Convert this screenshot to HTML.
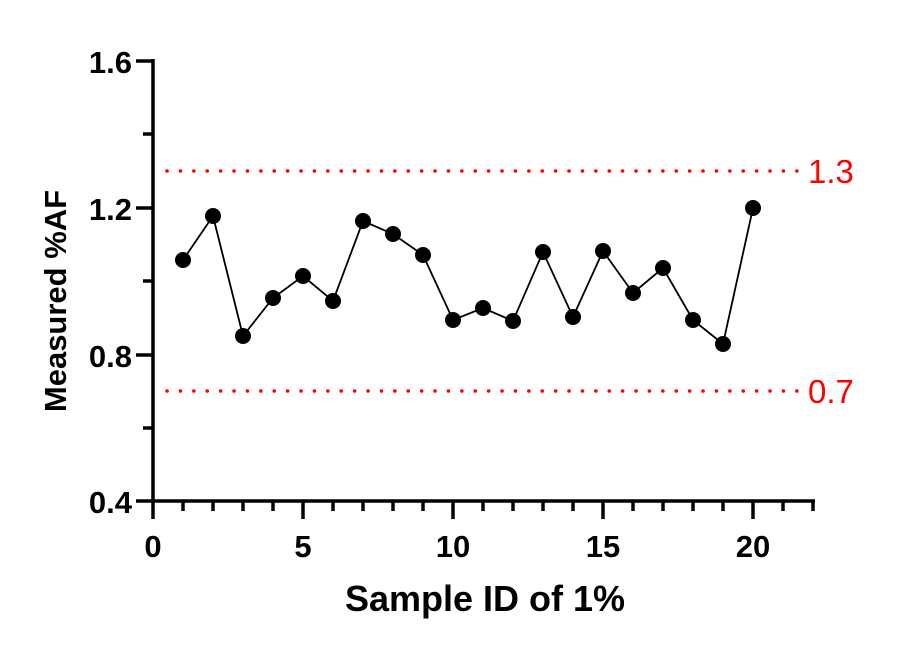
<!DOCTYPE html>
<html><head><style>body{margin:0;background:#fff}svg{display:block}</style></head><body>
<svg width="915" height="651" xmlns="http://www.w3.org/2000/svg" font-family="Liberation Sans, Arial, sans-serif">
<g stroke="#f00" stroke-width="3.5" stroke-dasharray="0.1,13.3" stroke-linecap="round">
<line x1="167" y1="171" x2="805" y2="171"/>
<line x1="167" y1="391" x2="805" y2="391"/>
</g>
<text x="808" y="183" font-size="33" fill="#f00">1.3</text>
<text x="808" y="403" font-size="33" fill="#f00">0.7</text>
<g stroke="#000" stroke-width="3.5" fill="none">
<line x1="153" y1="59" x2="153" y2="503"/>
<line x1="151" y1="501" x2="815" y2="501"/>
<path d="M136 61H153M136 208H153M136 355H153M136 501H153M143 134H153M143 281H153M143 428H153"/>
<path d="M153 501V519M303 501V519M453 501V519M603 501V519M753 501V519"/>
<path d="M183 501V511M213 501V511M243 501V511M273 501V511M333 501V511M363 501V511M393 501V511M423 501V511M483 501V511M513 501V511M543 501V511M573 501V511M633 501V511M663 501V511M693 501V511M723 501V511M783 501V511M813 501V511"/>
</g>
<polyline fill="none" stroke="#000" stroke-width="1.8" points="183,260 213,216 243,336 273,298 303,276 333,301 363,221 393,234 423,255 453,320 483,308 513,321 543,252 573,317 603,251 633,293 663,268 693,320 723,344 753,208"/>
<g fill="#000">
<circle cx="183" cy="260" r="8"/><circle cx="213" cy="216" r="8"/><circle cx="243" cy="336" r="8"/><circle cx="273" cy="298" r="8"/><circle cx="303" cy="276" r="8"/><circle cx="333" cy="301" r="8"/><circle cx="363" cy="221" r="8"/><circle cx="393" cy="234" r="8"/><circle cx="423" cy="255" r="8"/><circle cx="453" cy="320" r="8"/><circle cx="483" cy="308" r="8"/><circle cx="513" cy="321" r="8"/><circle cx="543" cy="252" r="8"/><circle cx="573" cy="317" r="8"/><circle cx="603" cy="251" r="8"/><circle cx="633" cy="293" r="8"/><circle cx="663" cy="268" r="8"/><circle cx="693" cy="320" r="8"/><circle cx="723" cy="344" r="8"/><circle cx="753" cy="208" r="8"/>
</g>
<g font-size="31" font-weight="bold" text-anchor="end">
<text x="132" y="73">1.6</text><text x="132" y="220">1.2</text><text x="132" y="367">0.8</text><text x="132" y="513">0.4</text>
</g>
<g font-size="31" font-weight="bold" text-anchor="middle">
<text x="153" y="557">0</text><text x="303" y="557">5</text><text x="453" y="557">10</text><text x="603" y="557">15</text><text x="753" y="557">20</text>
</g>
<text x="485" y="611" font-size="36" font-weight="bold" text-anchor="middle">Sample ID of 1%</text>
<text transform="translate(66,301) rotate(-90)" font-size="31" font-weight="bold" text-anchor="middle">Measured %AF</text>
</svg>
</body></html>
